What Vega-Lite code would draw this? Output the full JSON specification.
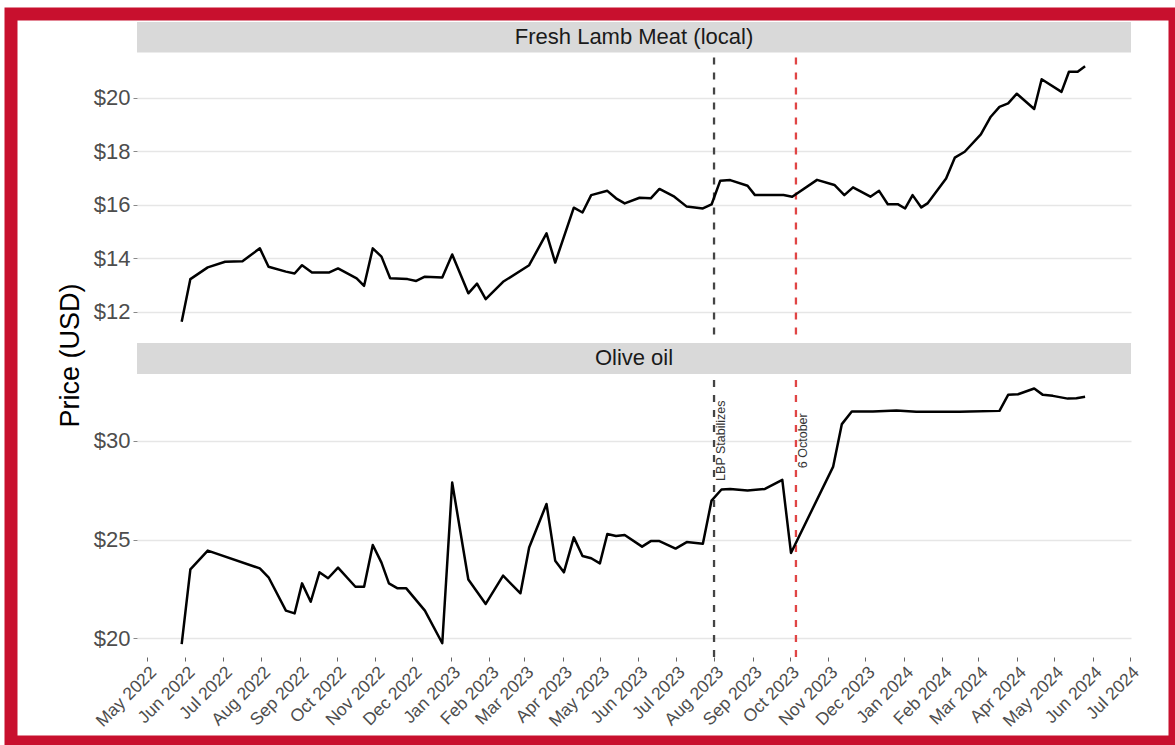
{
  "$schema": "https://vega.github.io/schema/vega-lite/v6.json",
  "width": 1164,
  "height": 728,
  "autosize": {"type": "none"},
  "padding": {"left": 11, "top": 14, "right": 0, "bottom": 3},
  "background": "white",
  "config": {
    "font": "Liberation Sans",
    "view": {"stroke": "#c8102e", "strokeWidth": 13, "fill": "white"}
  },
  "datasets": {
    "prices": [
      {"item": "Fresh Lamb Meat (local)", "date": "2022-05-29", "price": 11.63},
      {"item": "Fresh Lamb Meat (local)", "date": "2022-06-05", "price": 13.22},
      {"item": "Fresh Lamb Meat (local)", "date": "2022-06-19", "price": 13.66},
      {"item": "Fresh Lamb Meat (local)", "date": "2022-07-03", "price": 13.87},
      {"item": "Fresh Lamb Meat (local)", "date": "2022-07-17", "price": 13.89},
      {"item": "Fresh Lamb Meat (local)", "date": "2022-07-31", "price": 14.37},
      {"item": "Fresh Lamb Meat (local)", "date": "2022-08-07", "price": 13.68},
      {"item": "Fresh Lamb Meat (local)", "date": "2022-08-21", "price": 13.50},
      {"item": "Fresh Lamb Meat (local)", "date": "2022-08-28", "price": 13.43},
      {"item": "Fresh Lamb Meat (local)", "date": "2022-09-03", "price": 13.74},
      {"item": "Fresh Lamb Meat (local)", "date": "2022-09-11", "price": 13.47},
      {"item": "Fresh Lamb Meat (local)", "date": "2022-09-25", "price": 13.47},
      {"item": "Fresh Lamb Meat (local)", "date": "2022-10-02", "price": 13.62},
      {"item": "Fresh Lamb Meat (local)", "date": "2022-10-17", "price": 13.25},
      {"item": "Fresh Lamb Meat (local)", "date": "2022-10-23", "price": 12.97},
      {"item": "Fresh Lamb Meat (local)", "date": "2022-10-30", "price": 14.37},
      {"item": "Fresh Lamb Meat (local)", "date": "2022-11-06", "price": 14.06},
      {"item": "Fresh Lamb Meat (local)", "date": "2022-11-13", "price": 13.25},
      {"item": "Fresh Lamb Meat (local)", "date": "2022-11-27", "price": 13.22},
      {"item": "Fresh Lamb Meat (local)", "date": "2022-12-04", "price": 13.15},
      {"item": "Fresh Lamb Meat (local)", "date": "2022-12-11", "price": 13.31},
      {"item": "Fresh Lamb Meat (local)", "date": "2022-12-25", "price": 13.28},
      {"item": "Fresh Lamb Meat (local)", "date": "2023-01-02", "price": 14.14},
      {"item": "Fresh Lamb Meat (local)", "date": "2023-01-15", "price": 12.69},
      {"item": "Fresh Lamb Meat (local)", "date": "2023-01-22", "price": 13.05},
      {"item": "Fresh Lamb Meat (local)", "date": "2023-01-29", "price": 12.47},
      {"item": "Fresh Lamb Meat (local)", "date": "2023-02-12", "price": 13.12},
      {"item": "Fresh Lamb Meat (local)", "date": "2023-03-05", "price": 13.74},
      {"item": "Fresh Lamb Meat (local)", "date": "2023-03-19", "price": 14.93},
      {"item": "Fresh Lamb Meat (local)", "date": "2023-03-26", "price": 13.84},
      {"item": "Fresh Lamb Meat (local)", "date": "2023-04-10", "price": 15.89},
      {"item": "Fresh Lamb Meat (local)", "date": "2023-04-17", "price": 15.71},
      {"item": "Fresh Lamb Meat (local)", "date": "2023-04-24", "price": 16.36},
      {"item": "Fresh Lamb Meat (local)", "date": "2023-05-07", "price": 16.52},
      {"item": "Fresh Lamb Meat (local)", "date": "2023-05-14", "price": 16.24},
      {"item": "Fresh Lamb Meat (local)", "date": "2023-05-21", "price": 16.05},
      {"item": "Fresh Lamb Meat (local)", "date": "2023-06-02", "price": 16.26},
      {"item": "Fresh Lamb Meat (local)", "date": "2023-06-11", "price": 16.24},
      {"item": "Fresh Lamb Meat (local)", "date": "2023-06-18", "price": 16.59},
      {"item": "Fresh Lamb Meat (local)", "date": "2023-06-30", "price": 16.30},
      {"item": "Fresh Lamb Meat (local)", "date": "2023-07-10", "price": 15.93},
      {"item": "Fresh Lamb Meat (local)", "date": "2023-07-23", "price": 15.86},
      {"item": "Fresh Lamb Meat (local)", "date": "2023-07-30", "price": 16.01},
      {"item": "Fresh Lamb Meat (local)", "date": "2023-08-06", "price": 16.90},
      {"item": "Fresh Lamb Meat (local)", "date": "2023-08-14", "price": 16.92},
      {"item": "Fresh Lamb Meat (local)", "date": "2023-08-28", "price": 16.71},
      {"item": "Fresh Lamb Meat (local)", "date": "2023-09-03", "price": 16.36},
      {"item": "Fresh Lamb Meat (local)", "date": "2023-09-26", "price": 16.36},
      {"item": "Fresh Lamb Meat (local)", "date": "2023-10-03", "price": 16.30},
      {"item": "Fresh Lamb Meat (local)", "date": "2023-10-23", "price": 16.93},
      {"item": "Fresh Lamb Meat (local)", "date": "2023-11-06", "price": 16.74},
      {"item": "Fresh Lamb Meat (local)", "date": "2023-11-14", "price": 16.36},
      {"item": "Fresh Lamb Meat (local)", "date": "2023-11-21", "price": 16.65},
      {"item": "Fresh Lamb Meat (local)", "date": "2023-12-05", "price": 16.30},
      {"item": "Fresh Lamb Meat (local)", "date": "2023-12-12", "price": 16.52},
      {"item": "Fresh Lamb Meat (local)", "date": "2023-12-19", "price": 16.02},
      {"item": "Fresh Lamb Meat (local)", "date": "2023-12-27", "price": 16.02},
      {"item": "Fresh Lamb Meat (local)", "date": "2024-01-02", "price": 15.86},
      {"item": "Fresh Lamb Meat (local)", "date": "2024-01-08", "price": 16.36},
      {"item": "Fresh Lamb Meat (local)", "date": "2024-01-15", "price": 15.90},
      {"item": "Fresh Lamb Meat (local)", "date": "2024-01-20", "price": 16.05},
      {"item": "Fresh Lamb Meat (local)", "date": "2024-02-04", "price": 16.98},
      {"item": "Fresh Lamb Meat (local)", "date": "2024-02-11", "price": 17.76},
      {"item": "Fresh Lamb Meat (local)", "date": "2024-02-19", "price": 17.98},
      {"item": "Fresh Lamb Meat (local)", "date": "2024-03-03", "price": 18.63},
      {"item": "Fresh Lamb Meat (local)", "date": "2024-03-11", "price": 19.29},
      {"item": "Fresh Lamb Meat (local)", "date": "2024-03-18", "price": 19.66},
      {"item": "Fresh Lamb Meat (local)", "date": "2024-03-25", "price": 19.79},
      {"item": "Fresh Lamb Meat (local)", "date": "2024-04-01", "price": 20.15},
      {"item": "Fresh Lamb Meat (local)", "date": "2024-04-15", "price": 19.58},
      {"item": "Fresh Lamb Meat (local)", "date": "2024-04-21", "price": 20.69},
      {"item": "Fresh Lamb Meat (local)", "date": "2024-05-07", "price": 20.22},
      {"item": "Fresh Lamb Meat (local)", "date": "2024-05-13", "price": 20.97},
      {"item": "Fresh Lamb Meat (local)", "date": "2024-05-20", "price": 20.97},
      {"item": "Fresh Lamb Meat (local)", "date": "2024-05-26", "price": 21.18},
      {"item": "Olive oil", "date": "2022-05-29", "price": 19.71},
      {"item": "Olive oil", "date": "2022-06-05", "price": 23.49},
      {"item": "Olive oil", "date": "2022-06-19", "price": 24.44},
      {"item": "Olive oil", "date": "2022-07-31", "price": 23.54},
      {"item": "Olive oil", "date": "2022-08-07", "price": 23.09},
      {"item": "Olive oil", "date": "2022-08-21", "price": 21.40},
      {"item": "Olive oil", "date": "2022-08-28", "price": 21.26},
      {"item": "Olive oil", "date": "2022-09-03", "price": 22.78},
      {"item": "Olive oil", "date": "2022-09-10", "price": 21.85},
      {"item": "Olive oil", "date": "2022-09-17", "price": 23.34},
      {"item": "Olive oil", "date": "2022-09-24", "price": 23.04},
      {"item": "Olive oil", "date": "2022-10-02", "price": 23.58},
      {"item": "Olive oil", "date": "2022-10-16", "price": 22.61},
      {"item": "Olive oil", "date": "2022-10-23", "price": 22.61},
      {"item": "Olive oil", "date": "2022-10-30", "price": 24.72},
      {"item": "Olive oil", "date": "2022-11-06", "price": 23.83},
      {"item": "Olive oil", "date": "2022-11-12", "price": 22.78},
      {"item": "Olive oil", "date": "2022-11-19", "price": 22.53},
      {"item": "Olive oil", "date": "2022-11-26", "price": 22.53},
      {"item": "Olive oil", "date": "2022-12-11", "price": 21.40},
      {"item": "Olive oil", "date": "2022-12-25", "price": 19.75},
      {"item": "Olive oil", "date": "2023-01-02", "price": 27.88},
      {"item": "Olive oil", "date": "2023-01-15", "price": 22.98},
      {"item": "Olive oil", "date": "2023-01-29", "price": 21.74},
      {"item": "Olive oil", "date": "2023-02-12", "price": 23.17},
      {"item": "Olive oil", "date": "2023-02-26", "price": 22.28},
      {"item": "Olive oil", "date": "2023-03-05", "price": 24.60},
      {"item": "Olive oil", "date": "2023-03-19", "price": 26.80},
      {"item": "Olive oil", "date": "2023-03-26", "price": 23.93},
      {"item": "Olive oil", "date": "2023-04-02", "price": 23.34},
      {"item": "Olive oil", "date": "2023-04-10", "price": 25.11},
      {"item": "Olive oil", "date": "2023-04-17", "price": 24.17},
      {"item": "Olive oil", "date": "2023-04-24", "price": 24.05},
      {"item": "Olive oil", "date": "2023-05-01", "price": 23.79},
      {"item": "Olive oil", "date": "2023-05-07", "price": 25.28},
      {"item": "Olive oil", "date": "2023-05-14", "price": 25.18},
      {"item": "Olive oil", "date": "2023-05-21", "price": 25.23},
      {"item": "Olive oil", "date": "2023-06-04", "price": 24.64},
      {"item": "Olive oil", "date": "2023-06-11", "price": 24.92},
      {"item": "Olive oil", "date": "2023-06-18", "price": 24.92},
      {"item": "Olive oil", "date": "2023-07-01", "price": 24.54},
      {"item": "Olive oil", "date": "2023-07-10", "price": 24.87},
      {"item": "Olive oil", "date": "2023-07-23", "price": 24.79},
      {"item": "Olive oil", "date": "2023-07-30", "price": 26.97},
      {"item": "Olive oil", "date": "2023-08-07", "price": 27.53},
      {"item": "Olive oil", "date": "2023-08-14", "price": 27.56},
      {"item": "Olive oil", "date": "2023-08-28", "price": 27.48},
      {"item": "Olive oil", "date": "2023-09-11", "price": 27.56},
      {"item": "Olive oil", "date": "2023-09-25", "price": 28.02},
      {"item": "Olive oil", "date": "2023-10-02", "price": 24.32},
      {"item": "Olive oil", "date": "2023-11-05", "price": 28.69},
      {"item": "Olive oil", "date": "2023-11-12", "price": 30.84},
      {"item": "Olive oil", "date": "2023-11-20", "price": 31.48},
      {"item": "Olive oil", "date": "2023-12-07", "price": 31.48},
      {"item": "Olive oil", "date": "2023-12-26", "price": 31.53},
      {"item": "Olive oil", "date": "2024-01-11", "price": 31.46},
      {"item": "Olive oil", "date": "2024-02-15", "price": 31.46},
      {"item": "Olive oil", "date": "2024-02-23", "price": 31.48},
      {"item": "Olive oil", "date": "2024-03-18", "price": 31.51},
      {"item": "Olive oil", "date": "2024-03-25", "price": 32.32},
      {"item": "Olive oil", "date": "2024-04-02", "price": 32.35},
      {"item": "Olive oil", "date": "2024-04-15", "price": 32.64},
      {"item": "Olive oil", "date": "2024-04-22", "price": 32.32},
      {"item": "Olive oil", "date": "2024-04-30", "price": 32.27},
      {"item": "Olive oil", "date": "2024-05-12", "price": 32.13},
      {"item": "Olive oil", "date": "2024-05-19", "price": 32.15},
      {"item": "Olive oil", "date": "2024-05-26", "price": 32.22}
    ],
    "events": [
      {"date": "2023-08-01", "event": "LBP Stabilizes"},
      {"date": "2023-10-06", "event": "6 October"}
    ],
    "panels": [
      {"panel": "Fresh Lamb Meat (local)"},
      {"panel": "Olive oil"}
    ]
  },
  "layer": [
    {
      "layer": [
        {
          "data": {"name": "panels"},
          "transform": [{"filter": "datum.panel === 'Fresh Lamb Meat (local)'"}],
          "mark": {"type": "rect", "color": "#d9d9d9"},
          "encoding": {
            "x": {"datum": {"year": 2022, "month": 4, "date": 23, "utc": true}, "type": "temporal"},
            "x2": {"datum": {"year": 2024, "month": 7, "date": 2, "utc": true}},
            "y": {"datum": 21.69, "type": "quantitative"},
            "y2": {"datum": 22.83}
          }
        },
        {
          "data": {"name": "panels"},
          "transform": [{"filter": "datum.panel === 'Fresh Lamb Meat (local)'"}],
          "mark": {"type": "text", "fontSize": 22, "color": "#1a1a1a", "baseline": "middle", "align": "center"},
          "encoding": {
            "x": {"datum": {"year": 2023, "month": 5, "date": 28, "hours": 12, "utc": true}, "type": "temporal"},
            "y": {"datum": 22.26, "type": "quantitative"},
            "text": {"field": "panel"}
          }
        },
        {
          "data": {"name": "events"},
          "mark": {"type": "rule", "strokeDash": [7, 8], "strokeWidth": 2.3},
          "encoding": {
            "x": {"field": "date", "type": "temporal"},
            "y": {"datum": 11.15, "type": "quantitative"},
            "y2": {"datum": 21.66},
            "color": {"field": "event", "type": "nominal", "scale": {"domain": ["LBP Stabilizes", "6 October"], "range": ["#444444", "#e04545"]}, "legend": null}
          }
        },
        {
          "data": {"name": "prices"},
          "transform": [{"filter": "datum.item === 'Fresh Lamb Meat (local)'"}],
          "mark": {"type": "line", "color": "black", "strokeWidth": 2.5, "strokeJoin": "round"},
          "encoding": {
            "x": {
              "field": "date", "type": "temporal",
              "scale": {"type": "utc", "domain": [{"year": 2022, "month": 4, "date": 23, "utc": true}, {"year": 2024, "month": 7, "date": 2, "utc": true}], "range": [126, 1120]},
              "axis": {"title": null, "format": "%b %Y", "tickCount": {"interval": "month", "step": 1}, "labelAngle": -45, "labelFontSize": 17.5, "labelColor": "#4d4d4d", "labelOverlap": false, "labelFlush": false, "labelPadding": 2, "tickSize": 4, "tickColor": "#666666", "domain": false, "grid": false, "offset": -85}
            },
            "y": {
              "field": "price", "type": "quantitative",
              "scale": {"domain": [11.15, 21.66], "range": [320.5, 39.3], "zero": false, "nice": false},
              "axis": {"orient": "left", "offset": -126, "values": [12, 14, 16, 18, 20], "format": "$.0f", "labelFontSize": 22, "labelColor": "#4d4d4d", "labelPadding": 3, "labelOverlap": false, "tickSize": 4, "tickColor": "#888888", "domain": false, "grid": true, "gridColor": "#e6e6e6", "gridWidth": 1.3, "title": "Price (USD)", "titleFontSize": 27, "titleFontWeight": "normal", "titleColor": "black", "titleX": -67, "titleY": 341, "titleAngle": 270, "titleAlign": "center", "titleBaseline": "middle"}
            }
          }
        }
      ]
    },
    {
      "layer": [
        {
          "data": {"name": "panels"},
          "transform": [{"filter": "datum.panel === 'Olive oil'"}],
          "mark": {"type": "rect", "color": "#d9d9d9"},
          "encoding": {
            "x": {"datum": {"year": 2022, "month": 4, "date": 23, "utc": true}, "type": "temporal"},
            "x2": {"datum": {"year": 2024, "month": 7, "date": 2, "utc": true}},
            "y": {"datum": 33.38, "type": "quantitative"},
            "y2": {"datum": 34.95}
          }
        },
        {
          "data": {"name": "panels"},
          "transform": [{"filter": "datum.panel === 'Olive oil'"}],
          "mark": {"type": "text", "fontSize": 22, "color": "#1a1a1a", "baseline": "middle", "align": "center"},
          "encoding": {
            "x": {"datum": {"year": 2023, "month": 5, "date": 28, "hours": 12, "utc": true}, "type": "temporal"},
            "y": {"datum": 34.17, "type": "quantitative"},
            "text": {"field": "panel"}
          }
        },
        {
          "data": {"name": "events"},
          "mark": {"type": "rule", "strokeDash": [7, 8], "strokeWidth": 2.3},
          "encoding": {
            "x": {"field": "date", "type": "temporal"},
            "y": {"datum": 19.06, "type": "quantitative"},
            "y2": {"datum": 33.29},
            "color": {"field": "event", "type": "nominal", "scale": {"domain": ["LBP Stabilizes", "6 October"], "range": ["#444444", "#e04545"]}, "legend": null}
          }
        },
        {
          "data": {"name": "events"},
          "mark": {"type": "text", "angle": 270, "align": "center", "baseline": "top", "dy": 1, "fontSize": 12.5, "color": "#333333"},
          "encoding": {
            "x": {"field": "date", "type": "temporal"},
            "y": {"datum": 30, "type": "quantitative"},
            "text": {"field": "event"}
          }
        },
        {
          "data": {"name": "prices"},
          "transform": [{"filter": "datum.item === 'Olive oil'"}],
          "mark": {"type": "line", "color": "black", "strokeWidth": 2.5, "strokeJoin": "round"},
          "encoding": {
            "x": {
              "field": "date", "type": "temporal",
              "scale": {"type": "utc", "domain": [{"year": 2022, "month": 4, "date": 23, "utc": true}, {"year": 2024, "month": 7, "date": 2, "utc": true}], "range": [126, 1120]},
              "axis": {"title": null, "format": "%b %Y", "tickCount": {"interval": "month", "step": 1}, "labelAngle": -45, "labelFontSize": 17.5, "labelColor": "#4d4d4d", "labelOverlap": false, "labelFlush": false, "labelPadding": 2, "tickSize": 4, "tickColor": "#666666", "domain": false, "grid": false, "offset": -85}
            },
            "y": {
              "field": "price", "type": "quantitative",
              "scale": {"domain": [19.06, 33.29], "range": [642.9, 361.7], "zero": false, "nice": false},
              "axis": {"orient": "left", "offset": -126, "values": [20, 25, 30], "format": "$.0f", "labelFontSize": 22, "labelColor": "#4d4d4d", "labelPadding": 3, "labelOverlap": false, "tickSize": 4, "tickColor": "#888888", "domain": false, "grid": true, "gridColor": "#e6e6e6", "gridWidth": 1.3, "title": null}
            }
          }
        }
      ]
    }
  ],
  "resolve": {"scale": {"y": "independent"}, "axis": {"y": "independent"}}
}
